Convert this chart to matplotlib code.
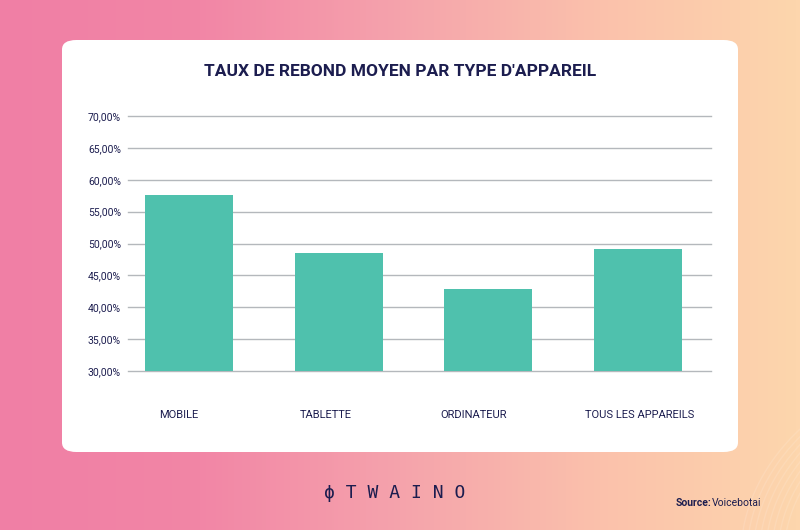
import numpy as np
import matplotlib
matplotlib.use("Agg")
import matplotlib.pyplot as plt
from matplotlib.patches import FancyBboxPatch
from matplotlib.colors import LinearSegmentedColormap

categories = ["MOBILE", "TABLETTE", "ORDINATEUR", "TOUS LES APPAREILS"]
values = [57.6, 48.5, 42.9, 49.1]
yticks = [30, 35, 40, 45, 50, 55, 60, 65, 70]
ytick_labels = ["30,00%", "35,00%", "40,00%", "45,00%", "50,00%", "55,00%", "60,00%", "65,00%", "70,00%"]
title = "TAUX DE REBOND MOYEN PAR TYPE D'APPAREIL"

NAVY = "#1c1d4f"
BAR = "#4fc1ad"
GRID = "#b4b8bc"
NARROW = ["Liberation Sans Narrow", "Roboto", "DejaVu Sans"]

W, H = 800, 530
fig = plt.figure(figsize=(W / 100, H / 100), dpi=100)

# gradient background
bg = fig.add_axes([0, 0, 1, 1], zorder=0)
bg.set_axis_off()
cmap = LinearSegmentedColormap.from_list(
    "bg", ["#f07fa5", "#f286a6", "#f5a3ac", "#fbc1ab", "#fdd6ad"])
grad = np.linspace(0, 1, 400).reshape(1, -1)
bg.imshow(grad, aspect="auto", cmap=cmap, extent=[0, 1, 0, 1])
bg.set_xlim(0, 1)
bg.set_ylim(0, 1)
# faint decorative arc in lower right
th = np.linspace(0, np.pi / 2, 200)
for r in np.linspace(0.30, 0.36, 8):
    bg.plot(0.95 - r * 0.9 * np.cos(th) + 0.3, -0.05 + r * 1.05 * np.sin(th),
            color="white", alpha=0.12, lw=1)

# white card
card = FancyBboxPatch((62 / W, 1 - 452 / H), (738 - 62) / W, (452 - 40) / H,
                      boxstyle="round,pad=0,rounding_size=0.018",
                      transform=fig.transFigure, facecolor="white",
                      edgecolor="none", zorder=1)
fig.patches.append(card)

fig.text(0.5, 1 - 71 / H, title, ha="center", va="center", fontsize=12.5,
         fontweight="bold", color=NAVY, family=NARROW, zorder=3)

ax = fig.add_axes([128 / W, 1 - 371 / H, (711 - 128) / W, (371 - 116) / H], zorder=2)
ax.patch.set_alpha(0)
x = np.arange(len(categories))
ax.bar(x, values, width=0.59, bottom=0, color=BAR, zorder=3)
ax.set_ylim(30, 70)
ax.set_xlim(-0.41, 3.49)
ax.set_yticks(yticks)
ax.set_yticklabels(ytick_labels, family=NARROW, fontsize=7.5, color=NAVY)
ax.yaxis.grid(True, color=GRID, lw=1)
for gl in ax.get_ygridlines():
    gl.set_clip_on(False)
ax.set_axisbelow(True)
label_shift = np.array([-0.07, -0.09, -0.10, 0.01])
ax.set_xticks(x + label_shift)
ax.set_xticklabels(categories, family=NARROW, fontsize=8, color=NAVY)
ax.tick_params(axis="x", length=0, pad=28)
ax.tick_params(axis="y", length=0, pad=5)
for s in ax.spines.values():
    s.set_visible(False)

# logo and source
fig.text(395 / W, 1 - 493 / H, "ϕ T W A I N O", ha="center", va="center",
         fontsize=13, color=NAVY, family=["DejaVu Sans Mono"], zorder=3)
fig.text(676 / W, 1 - 503 / H, "Source:", ha="left", va="center", fontsize=7.5,
         fontweight="bold", color=NAVY, family=NARROW, zorder=3)
fig.text(712 / W, 1 - 503 / H, "Voicebotai", ha="left", va="center", fontsize=7.5,
         color=NAVY, family=NARROW, zorder=3)

fig.savefig("out.png", dpi=100)
